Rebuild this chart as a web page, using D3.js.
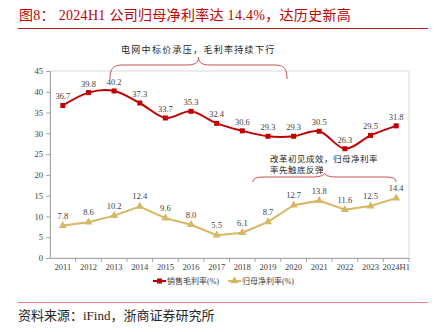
<!DOCTYPE html>
<html><head><meta charset="utf-8">
<script src="https://cdn.jsdelivr.net/npm/d3@7"></script>
<style>
html,body{margin:0;padding:0;background:#fff;}
svg{display:block;}
</style></head>
<body>
<svg id="chart" width="438" height="332"></svg>
<script>
const categories = ["2011","2012","2013","2014","2015","2016","2017","2018","2019","2020","2021","2022","2023","2024H1"];
const grossMargin = [36.7,39.8,40.2,37.3,33.7,35.3,32.4,30.6,29.3,29.3,30.5,26.3,29.5,31.8];
const netMargin = [7.8,8.6,10.2,12.4,9.6,8.0,5.5,6.1,8.7,12.7,13.8,11.6,12.5,14.4];
const yTicks = [0,5,10,15,20,25,30,35,40,45];
const seriesNames = ["销售毛利率(%)","归母净利率(%)"];
const titleText = "图8：  2024H1 公司归母净利率达 14.4%，达历史新高";
const sourceText = "资料来源：iFind，浙商证券研究所";
const note1 = "电网中标价承压，毛利率持续下行";
const note2 = ["改革初见成效，归母净利率","率先触底反弹"];

const serif = "'Liberation Serif','Times New Roman','Noto Sans CJK SC',serif";
const cjk = "'Liberation Serif','Noto Sans CJK SC',sans-serif";
const RED = "#c00000", YEL = "#d7b763", AX = "#a6a6a6", TXT = "#404040";

const svg = d3.select("#chart");
const m = {left:50, right:409, top:71, bottom:258};

// title
svg.append("text").attr("x",19).attr("y",20).attr("fill","#c00000")
  .attr("font-family",cjk).attr("font-size",14).attr("letter-spacing",0.3).text(titleText);
svg.append("line").attr("x1",18).attr("x2",428).attr("y1",28.5).attr("y2",28.5)
  .attr("stroke","#c0181a").attr("stroke-width",1);

const x = d3.scaleBand().domain(categories).range([m.left,m.right]);
const y = d3.scaleLinear().domain([0,45]).range([m.bottom,m.top]);
const cx = d => x(d) + x.bandwidth()/2;

// plot border
svg.append("rect").attr("x",m.left).attr("y",m.top).attr("width",m.right-m.left).attr("height",m.bottom-m.top)
  .attr("fill","none").attr("stroke","#d9d9d9");

// y axis
const ya = svg.append("g").attr("transform",`translate(${m.left},0)`)
  .call(d3.axisLeft(y).tickValues(yTicks).tickSize(4).tickPadding(3));
ya.select(".domain").attr("stroke",AX);
ya.selectAll(".tick line").attr("stroke",AX);
ya.selectAll("text").attr("font-family",serif).attr("font-size",8.5).attr("fill",TXT);

// x axis
const xa = svg.append("g").attr("transform",`translate(0,${m.bottom})`)
  .call(d3.axisBottom(x).tickSize(0).tickPadding(6));
xa.select(".domain").attr("stroke",AX);
xa.selectAll("text").attr("font-family",serif).attr("font-size",8.5).attr("fill",TXT);
xa.selectAll(".sep").data(categories.slice(1).concat(["_end"])).enter().append("line")
  .attr("x1",(d,i)=>m.left + x.step()*(i+1)).attr("x2",(d,i)=>m.left + x.step()*(i+1))
  .attr("y1",0).attr("y2",4).attr("stroke",AX);

// red line (smoothed)
const lineR = d3.line().x((d,i)=>cx(categories[i])).y(d=>y(d)).curve(d3.curveCatmullRom.alpha(0));
svg.append("path").datum(grossMargin).attr("d",lineR).attr("fill","none")
  .attr("stroke",RED).attr("stroke-width",2);
svg.selectAll(".sq").data(grossMargin).enter().append("rect")
  .attr("x",(d,i)=>cx(categories[i])-2.5).attr("y",d=>y(d)-2.5).attr("width",5).attr("height",5).attr("fill",RED);
svg.selectAll(".lr").data(grossMargin).enter().append("text")
  .attr("x",(d,i)=>cx(categories[i])).attr("y",d=>y(d)-6).attr("text-anchor","middle")
  .attr("font-family",serif).attr("font-size",8.5).attr("fill",TXT).text(d=>d.toFixed(1));

// yellow line
const lineY = d3.line().x((d,i)=>cx(categories[i])).y(d=>y(d));
svg.append("path").datum(netMargin).attr("d",lineY).attr("fill","none")
  .attr("stroke",YEL).attr("stroke-width",2);
const tri = d3.symbol().type(d3.symbolTriangle).size(28);
svg.selectAll(".tr").data(netMargin).enter().append("path")
  .attr("d",tri).attr("transform",(d,i)=>`translate(${cx(categories[i])},${y(d)})`).attr("fill",YEL);
svg.selectAll(".ly").data(netMargin).enter().append("text")
  .attr("x",(d,i)=>cx(categories[i])).attr("y",d=>y(d)-7).attr("text-anchor","middle")
  .attr("font-family",serif).attr("font-size",8.5).attr("fill",TXT).text(d=>d.toFixed(1));

// legend
const lg = svg.append("g").attr("transform","translate(0,281)");
lg.append("line").attr("x1",153).attr("x2",166).attr("y1",0).attr("y2",0).attr("stroke",RED).attr("stroke-width",2);
lg.append("rect").attr("x",157).attr("y",-2.5).attr("width",5).attr("height",5).attr("fill",RED);
lg.append("text").attr("x",167).attr("y",3).attr("font-family",cjk).attr("font-size",8).attr("fill",TXT).text(seriesNames[0]);
lg.append("line").attr("x1",228).attr("x2",241).attr("y1",0).attr("y2",0).attr("stroke",YEL).attr("stroke-width",2);
lg.append("path").attr("d",tri).attr("transform","translate(234.5,0)").attr("fill",YEL);
lg.append("text").attr("x",242).attr("y",3).attr("font-family",cjk).attr("font-size",8).attr("fill",TXT).text(seriesNames[1]);

// annotations
const BR = "#c0504d";
function brace(x0,x1,yb,yt,ymid){
  const c=(x0+x1)/2;
  return `M${x0},${yb} C${x0},${ymid} ${x0+6},${ymid} ${x0+16},${ymid} L${c-12},${ymid} C${c-4},${ymid} ${c},${ymid-2} ${c},${yt} C${c},${ymid-2} ${c+4},${ymid} ${c+12},${ymid} L${x1-16},${ymid} C${x1-6},${ymid} ${x1},${ymid} ${x1},${yb}`;
}
svg.append("path").attr("d",brace(110,287,79,57,65)).attr("fill","none").attr("stroke",BR).attr("stroke-width",1);
svg.append("text").attr("x",121).attr("y",53).attr("font-family",cjk)
  .attr("font-size",9).attr("fill","#262626").attr("letter-spacing",1.3).text(note1);
svg.append("path").attr("d",brace(253,396,182,173,177)).attr("fill","none").attr("stroke",BR).attr("stroke-width",1);
svg.append("text").attr("x",270).attr("y",162).attr("font-family",cjk)
  .attr("font-size",8.5).attr("fill","#262626").attr("letter-spacing",0.5).text(note2[0]);
svg.append("text").attr("x",270).attr("y",172.5).attr("font-family",cjk)
  .attr("font-size",8.5).attr("fill","#262626").attr("letter-spacing",0.5).text(note2[1]);

// bottom line & source
svg.append("line").attr("x1",18).attr("x2",428).attr("y1",302.5).attr("y2",302.5)
  .attr("stroke","#e8807c").attr("stroke-width",1.2);
svg.append("text").attr("x",18).attr("y",320).attr("font-family",cjk).attr("font-size",13)
  .attr("fill","#262626").text(sourceText);
</script>
</body></html>
